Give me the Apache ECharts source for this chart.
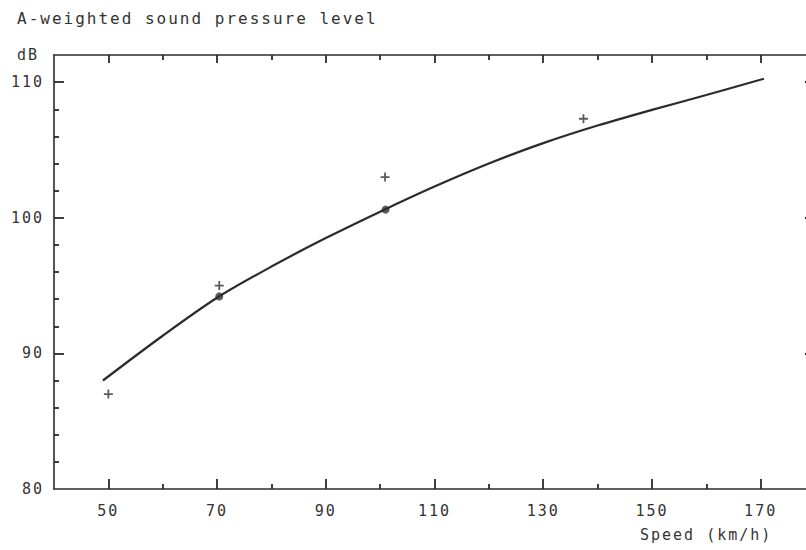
<!DOCTYPE html>
<html>
<head>
<meta charset="utf-8">
<script src="https://cdn.jsdelivr.net/npm/echarts@6/dist/echarts.min.js"></script>
<style>
  html, body { margin: 0; padding: 0; background: #fff; }
  #chart { width: 806px; height: 550px; }
  /* plotter-style wide tracking for every label */
  #chart text { letter-spacing: 2px; }
</style>
</head>
<body>
<div id="chart"></div>
<script>
// Speed (km/h) vs. A-weighted sound pressure level (dB)
const curveSpeed = [49, 60, 70, 80, 90, 100, 110, 120, 130, 140, 150, 160, 170.6];
const curveLevel = [88.0, 91.3, 94.1, 96.4, 98.5, 100.45, 102.3, 104.0, 105.5, 106.8, 107.95, 109.05, 110.25];

// measured points lying on the fitted curve (filled dots)
const dotSpeed = [70.4, 101];
const dotLevel = [94.2, 100.6];

// individual measurements (crosses)
const crossSpeed = [50, 70.4, 100.9, 137.4];
const crossLevel = [87.0, 95.0, 103.0, 107.3];

// axis ticks and labels
const xMajor = [50, 70, 90, 110, 130, 150, 170];
const xMinor = [60, 80, 100, 120, 140, 160];
const yLabels = [80, 90, 100, 110];
const yMajor = [90, 100, 110];
const yMinor = [82, 84, 86, 88, 92, 94, 96, 98, 102, 104, 106, 108];

const FONT = 'DejaVu Sans Mono';
const INK = '#2b2b2b';
const TEXT = '#333';

const pairs = (xs, ys) => xs.map((x, i) => [x, ys[i]]);

function xAx(position, ticks, len, opts) {
  return Object.assign({
    type: 'value', position, min: 40, max: 180, interval: 10,
    axisLine: { show: false, lineStyle: { color: INK, width: 1.6 } },
    axisTick: { show: true, inside: true, length: len, customValues: ticks,
                lineStyle: { color: INK, width: 1.8 } },
    axisLabel: { show: false },
    splitLine: { show: false }
  }, opts || {});
}
function yAx(position, ticks, len, opts) {
  return Object.assign({
    type: 'value', position, min: 80, max: 112, interval: 2,
    axisLine: { show: false, lineStyle: { color: INK, width: 1.6 } },
    axisTick: { show: true, inside: true, length: len, customValues: ticks,
                lineStyle: { color: INK, width: 1.8 } },
    axisLabel: { show: false },
    splitLine: { show: false }
  }, opts || {});
}

const chart = echarts.init(document.getElementById('chart'), null, { renderer: 'svg' });

chart.setOption({
  animation: false,
  backgroundColor: '#fff',
  title: [
    { text: 'A-weighted sound pressure level', left: 12, top: 5,
      textStyle: { fontFamily: FONT, fontSize: 16, fontWeight: 'normal', color: TEXT } },
    { text: 'dB', left: 12, top: 42,
      textStyle: { fontFamily: FONT, fontSize: 15, fontWeight: 'normal', color: TEXT } },
    { text: 'Speed (km/h)', left: 635, top: 522,
      textStyle: { fontFamily: FONT, fontSize: 15, fontWeight: 'normal', color: TEXT } }
  ],
  // the frame's right edge runs just past the visible area
  grid: { left: 54, right: -9, top: 55, bottom: 61, outerBoundsMode: 'none', containLabel: false },
  xAxis: [
    xAx('bottom', xMajor, 10, {
      axisLine: { show: true, lineStyle: { color: INK, width: 1.6 } },
      axisLabel: { show: true, customValues: xMajor, margin: 14,
                   fontFamily: FONT, fontSize: 15, color: TEXT }
    }),
    xAx('bottom', xMinor, 5),
    xAx('top', xMajor, 8, { axisLine: { show: true, lineStyle: { color: INK, width: 1.6 } } }),
    xAx('top', xMinor, 5)
  ],
  yAxis: [
    yAx('left', yMajor, 10, {
      axisLine: { show: true, lineStyle: { color: INK, width: 1.6 } },
      axisLabel: { show: true, customValues: yLabels, margin: 10,
                   fontFamily: FONT, fontSize: 15, color: TEXT }
    }),
    yAx('left', yMinor, 5),
    yAx('right', yMajor, 10, { axisLine: { show: true, lineStyle: { color: INK, width: 1.6 } } })
  ],
  series: [
    {
      type: 'line', xAxisIndex: 0, yAxisIndex: 0,
      data: pairs(curveSpeed, curveLevel),
      smooth: 0.3, symbol: 'none',
      lineStyle: { color: INK, width: 2.2 }
    },
    {
      type: 'scatter', xAxisIndex: 0, yAxisIndex: 0,
      data: pairs(dotSpeed, dotLevel),
      symbol: 'circle', symbolSize: 8,
      itemStyle: { color: '#333' }
    },
    {
      type: 'scatter', xAxisIndex: 0, yAxisIndex: 0,
      data: pairs(crossSpeed, crossLevel),
      symbol: 'path://M4,0H6V4H10V6H6V10H4V6H0V4H4Z', symbolSize: 9,
      itemStyle: { color: '#333' }
    }
  ]
});
</script>
</body>
</html>
